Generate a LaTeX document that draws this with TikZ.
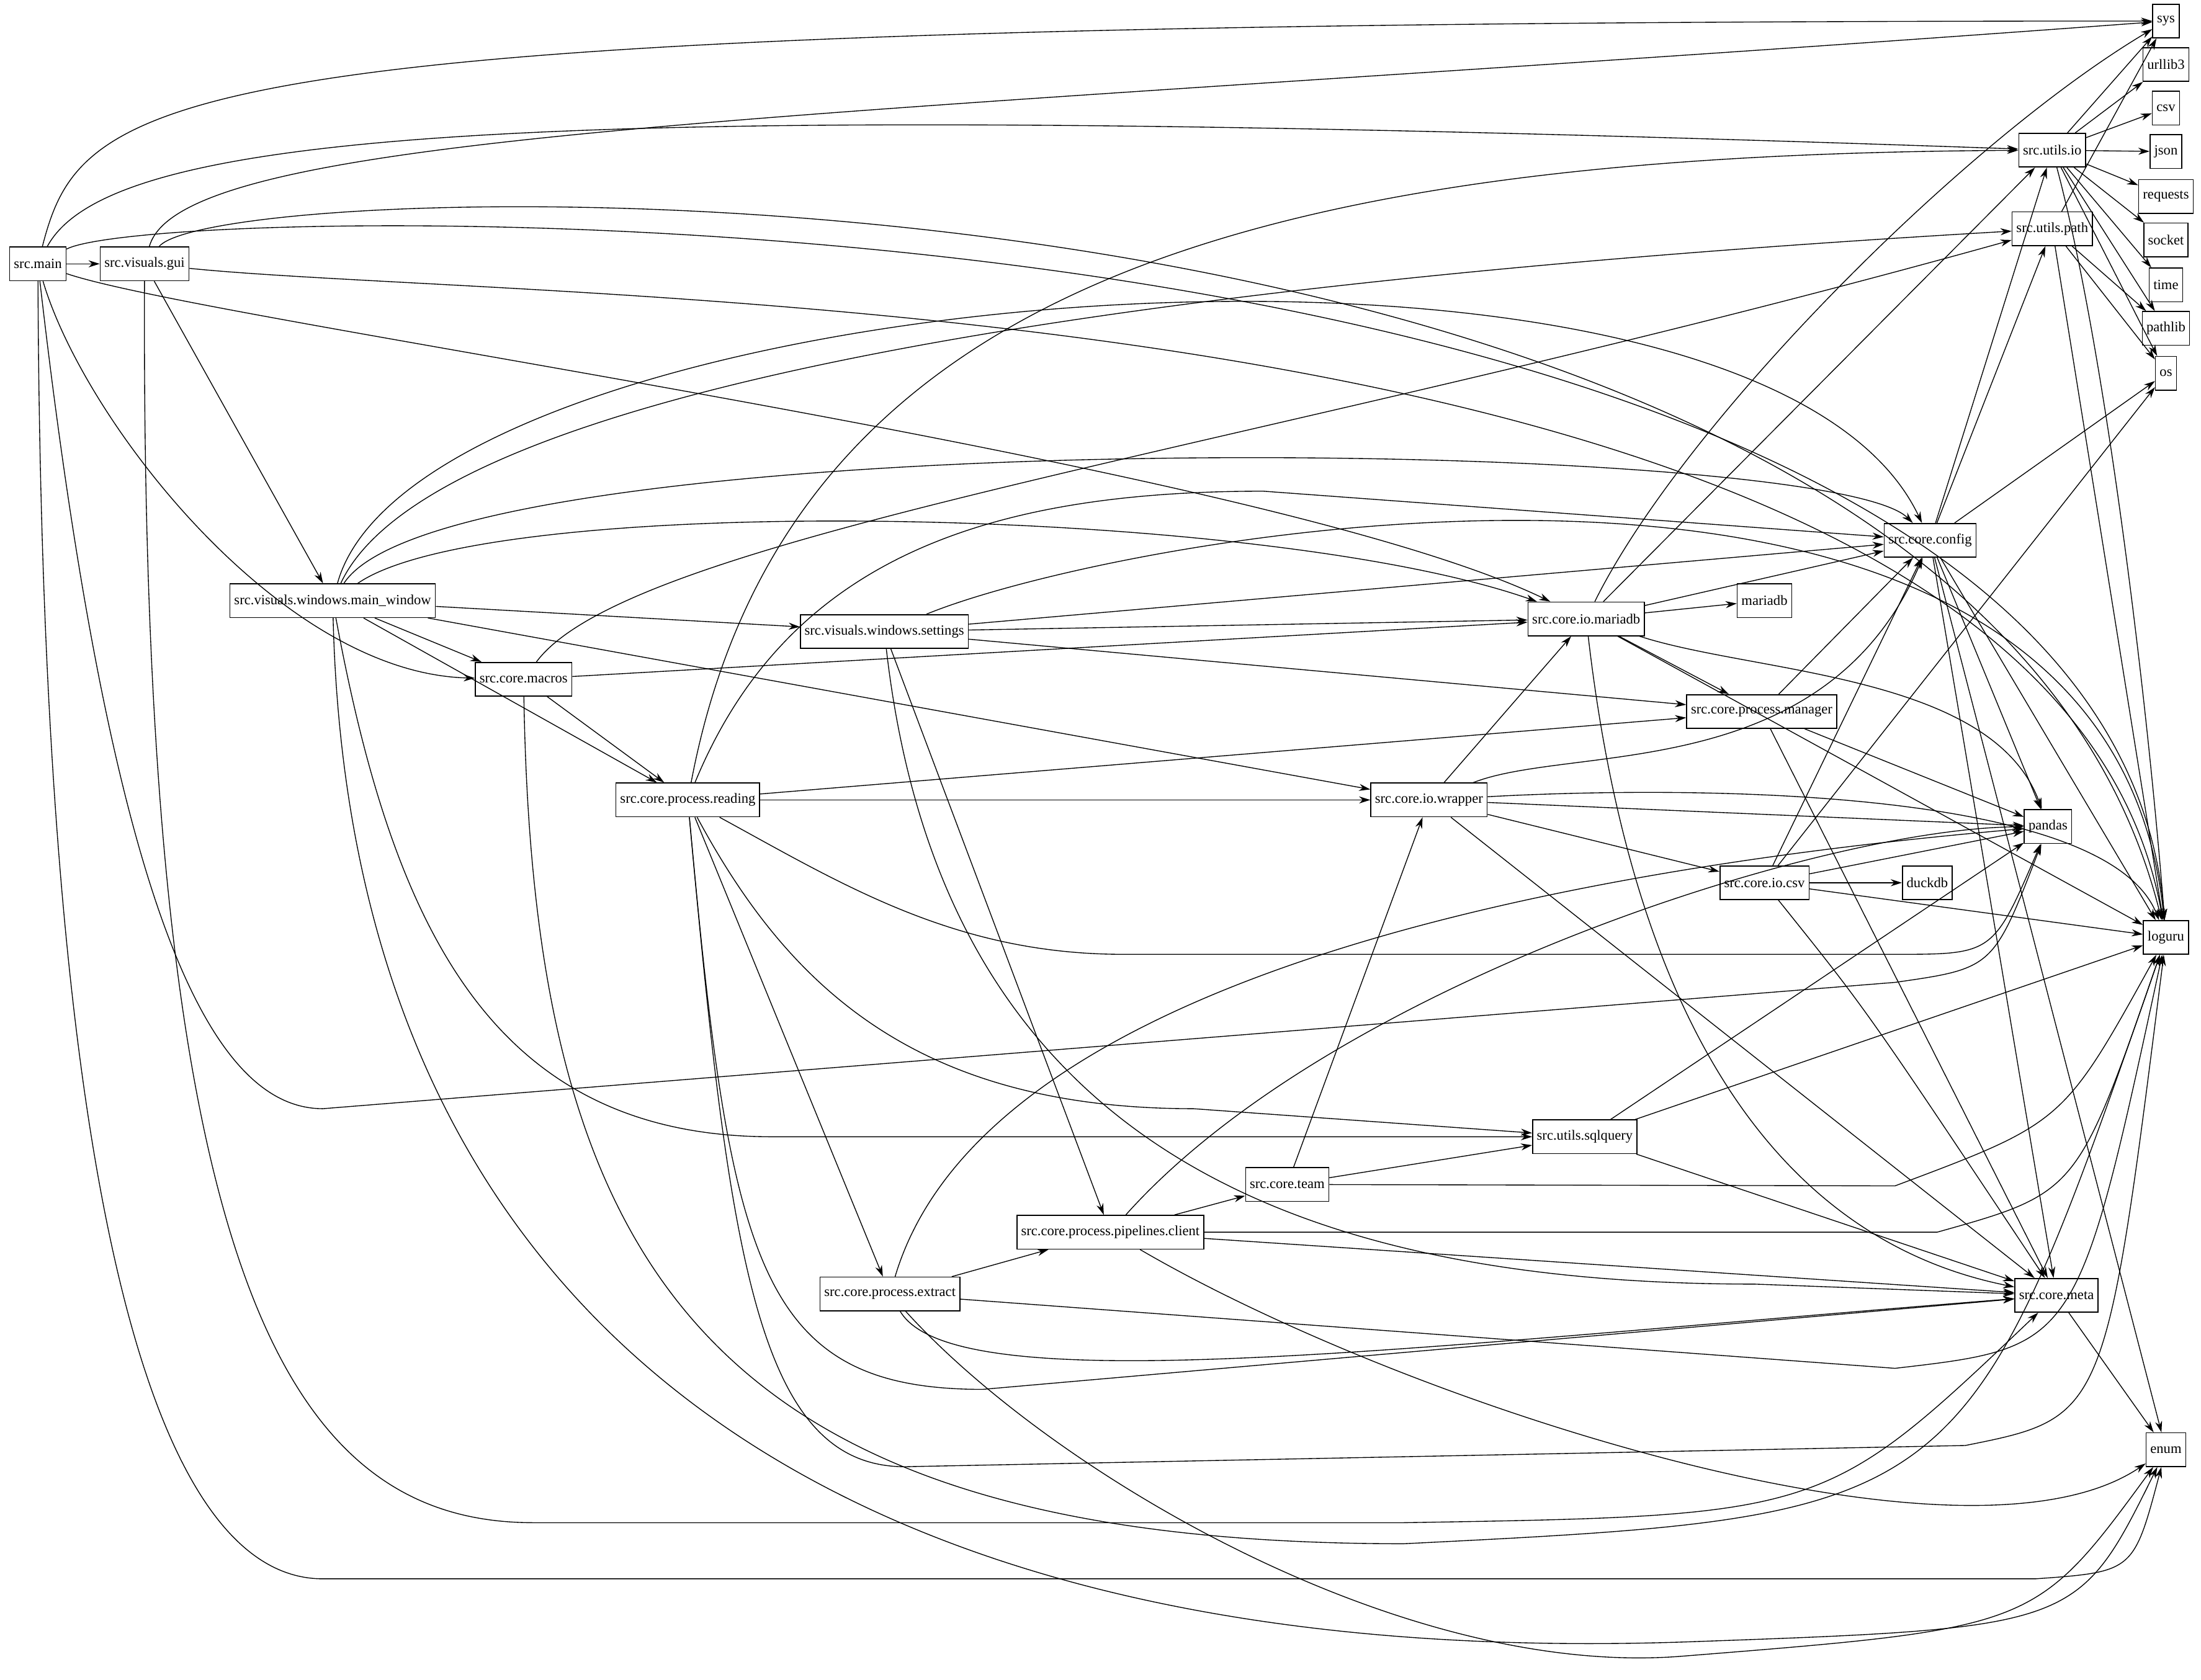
\documentclass[tikz,border=0pt]{standalone}
\usepackage{fontspec}
\setmainfont{Liberation Serif}
\usetikzlibrary{positioning,arrows.meta}

\tikzset{
  mod/.style={draw,line width=0.7pt,inner sep=3pt,minimum height=24pt,font=\fontsize{10}{12}\selectfont},
  dep/.style={-{Stealth[length=8pt,width=5pt]},line width=0.6pt}
}

\begin{document}
\begin{tikzpicture}[x=1pt,y=1pt]
		\useasboundingbox (0,0) rectangle (1568,-1197);
		% modules
		\node[mod] (main) at (27,-188) {src.main};
		\node[mod] (gui) at (103,-188) {src.visuals.gui};
		\node[mod] (mainwin) at (237,-428) {src.visuals.windows.main\_window};
		\node[mod] (macros) at (373,-484) {src.core.macros};
		\node[mod] (reading) at (490,-570) {src.core.process.reading};
		\node[mod] (settings) at (630,-450) {src.visuals.windows.settings};
		\node[mod] (mariadb) at (1130,-441) {src.core.io.mariadb};
		\node[mod] (manager) at (1255,-507) {src.core.process.manager};
		\node[mod] (wrapper) at (1018,-570) {src.core.io.wrapper};
		\node[mod] (csvmod) at (1257,-629) {src.core.io.csv};
		\node[mod] (config) at (1375,-385) {src.core.config};
		\node[mod] (uio) at (1462,-107) {src.utils.io};
		\node[mod] (upath) at (1462,-163) {src.utils.path};
		\node[mod] (meta) at (1465,-923) {src.core.meta};
		\node[mod] (sqlq) at (1129,-810) {src.utils.sqlquery};
		\node[mod] (team) at (917,-844) {src.core.team};
		\node[mod] (client) at (791,-878) {src.core.process.pipelines.client};
		\node[mod] (extract) at (634,-922) {src.core.process.extract};
		% external packages
		\node[mod] (maria) at (1257,-428) {mariadb};
		\node[mod] (duckdb) at (1373,-629) {duckdb};
		\node[mod] (pandas) at (1459,-589) {pandas};
		\node[mod] (loguru) at (1543,-668) {loguru};
		\node[mod] (enum) at (1543,-1033) {enum};
		\node[mod] (sys) at (1543,-15) {sys};
		\node[mod] (urllib) at (1543,-46) {urllib3};
		\node[mod] (csv) at (1543,-77) {csv};
		\node[mod] (json) at (1543,-108) {json};
		\node[mod] (requests) at (1543,-140) {requests};
		\node[mod] (socket) at (1543,-171) {socket};
		\node[mod] (time) at (1543,-203) {time};
		\node[mod] (pathlib) at (1543,-234) {pathlib};
		\node[mod] (os) at (1543,-266) {os};

		% straight dependencies
		\foreach \a/\b in {main/gui,gui/mainwin,mainwin/settings,mainwin/macros,mainwin/reading,mainwin/wrapper,
			settings/mariadb,settings/client,macros/mariadb,macros/reading,reading/wrapper,reading/manager,reading/extract,
			wrapper/mariadb,wrapper/pandas,wrapper/csvmod,wrapper/meta,csvmod/duckdb,csvmod/pandas,csvmod/loguru,csvmod/os,
			mariadb/maria,mariadb/config,mariadb/loguru,manager/config,manager/pandas,manager/meta,config/uio,config/upath,
			config/os,config/pandas,config/meta,config/enum,config/loguru,upath/pathlib,upath/os,upath/sys,upath/loguru,
			uio/sys,uio/urllib,uio/csv,uio/json,uio/requests,uio/socket,uio/time,uio/pathlib,uio/os,
			meta/enum,extract/client,client/team,client/meta,team/wrapper,team/sqlq,
			sqlq/pandas,sqlq/loguru,sqlq/meta,settings/config}
			\draw[dep] (\a) -- (\b);

		% routed dependencies
		\draw[dep] (uio) .. controls (1500,-250) and (1530,-500) .. (loguru);
		\draw[dep] (main) .. controls (60,-60) and (120,-15) .. (sys);
		\draw[dep] (main) .. controls (80,-90) and (400,-70) .. (uio);
		\draw[dep] (main) .. controls (120,-140) and (1500,-120) .. (loguru);
		\draw[dep] (main) .. controls (60,-300) and (200,-480) .. (macros);
		\draw[dep] (main) .. controls (150,-230) and (900,-330) .. (mariadb);
		\draw[dep] (main) .. controls (80,-650) and (150,-790) .. (230,-790) -- (1350,-700) .. controls (1420,-690) .. (pandas);
		\draw[dep] (main) .. controls (30,-900) and (120,-1125) .. (230,-1125) -- (1450,-1125) .. controls (1520,-1120) .. (enum);
		\draw[dep] (gui) .. controls (130,-90) and (600,-85) .. (sys);
		\draw[dep] (gui) .. controls (160,-120) and (1400,-90) .. (loguru);
		\draw[dep] (gui) .. controls (400,-218) and (1460,-200) .. (loguru);
		\draw[dep] (gui) .. controls (100,-900) and (200,-1085) .. (380,-1085) -- (1000,-1085) .. controls (1300,-1080) .. (meta);
		\draw[dep] (mainwin) .. controls (300,-200) and (1250,-120) .. (config);
		\draw[dep] (mainwin) .. controls (320,-250) and (1000,-190) .. (upath);
		\draw[dep] (mainwin) .. controls (320,-300) and (1300,-310) .. (config);
		\draw[dep] (mainwin) .. controls (350,-350) and (900,-360) .. (mariadb);
		\draw[dep] (mainwin) .. controls (280,-660) and (350,-810) .. (550,-810) -- (sqlq);
		\draw[dep] (mainwin) .. controls (250,-950) and (600,-1190) .. (1200,-1170) .. controls (1480,-1160) .. (enum);
		\draw[dep] (settings) .. controls (800,-380) and (1500,-250) .. (loguru);
		\draw[dep] (settings) -- (manager);
		\draw[dep] (settings) .. controls (670,-800) and (900,-915) .. (1250,-915) -- (meta);
		\draw[dep] (macros) .. controls (450,-380) and (900,-320) .. (upath);
		\draw[dep] (macros) .. controls (380,-900) and (500,-1100) .. (1000,-1100) .. controls (1400,-1080) .. (loguru);
		\draw[dep] (reading) .. controls (560,-200) and (900,-110) .. (uio);
		\draw[dep] (reading) .. controls (560,-400) and (700,-350) .. (900,-350) -- (config);
		\draw[dep] (reading) .. controls (600,-630) and (680,-680) .. (800,-680) -- (1350,-680) .. controls (1420,-680) .. (pandas);
		\draw[dep] (reading) .. controls (560,-700) and (650,-790) .. (850,-790) -- (sqlq);
		\draw[dep] (reading) .. controls (520,-900) and (540,-1050) .. (650,-1045) -- (1400,-1030) .. controls (1500,-1010) .. (loguru);
		\draw[dep] (reading) .. controls (520,-900) and (540,-990) .. (700,-990) -- (meta);
		\draw[dep] (extract) .. controls (700,-700) and (1100,-620) .. (pandas);
		\draw[dep] (extract) .. controls (680,-1000) and (1000,-960) .. (meta);
		\draw[dep] (extract) -- (1350,-975) .. controls (1480,-960) .. (loguru);
		\draw[dep] (extract) .. controls (750,-1050) and (1000,-1197) .. (1200,-1180) .. controls (1450,-1160) .. (enum);
		\draw[dep] (client) -- (1380,-878) .. controls (1480,-850) .. (loguru);
		\draw[dep] (team) -- (1350,-845) .. controls (1470,-800) .. (loguru);
		\draw[dep] (client) .. controls (950,-700) and (1300,-590) .. (pandas);
		\draw[dep] (client) .. controls (1000,-1000) and (1400,-1130) .. (enum);
		\draw[dep] (wrapper) .. controls (1120,-530) and (1300,-560) .. (config);
		\draw[dep] (wrapper) .. controls (1200,-560) and (1500,-560) .. (loguru);
		\draw[dep] (csvmod) -- (config);
		\draw[dep] (csvmod) .. controls (1330,-720) .. (meta);
		\draw[dep] (mariadb) .. controls (1200,-300) and (1400,-100) .. (sys);
		\draw[dep] (mariadb) -- (uio);
		\draw[dep] (mariadb) -- (manager);
		\draw[dep] (mariadb) .. controls (1250,-480) and (1420,-480) .. (pandas);
		\draw[dep] (mariadb) .. controls (1160,-700) and (1250,-880) .. (meta);
\end{tikzpicture}
\end{document}
